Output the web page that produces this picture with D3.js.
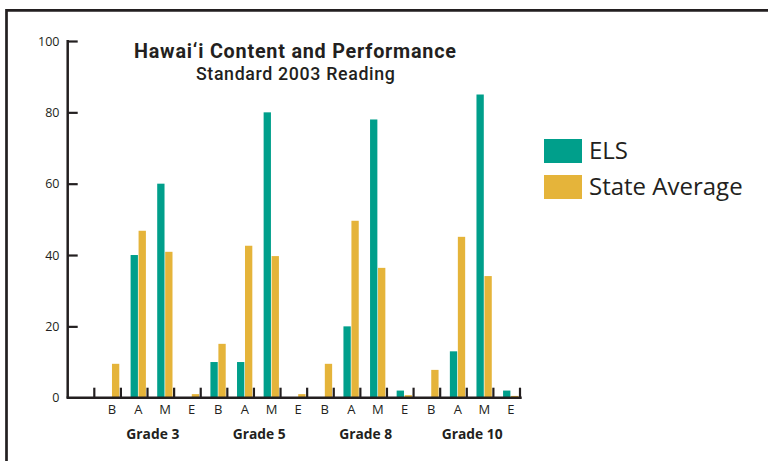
<!DOCTYPE html>
<html>
<head>
<meta charset="utf-8">
<script src="https://cdn.jsdelivr.net/npm/d3@7"></script>
<style>
  html, body { margin: 0; padding: 0; background: #fff; }
  svg { display: block; }
  text { font-family: "Open Sans", "Noto Sans", sans-serif; fill: #231f20; }
  text.title { font-family: Roboto, "Open Sans", sans-serif; }
</style>
</head>
<body>
<svg id="chart" width="768" height="461"></svg>
<script>
// ---- data ----
const grades = ["Grade 3", "Grade 5", "Grade 8", "Grade 10"];
const levels = ["B", "A", "M", "E"];
const elsValues   = [0, 40, 60, 0,   10, 10, 80, 0,   0, 20, 78, 2,   0, 13, 85, 2];
const stateValues = [9.5, 46.8, 40.9, 1,   15.1, 42.6, 39.7, 1,   9.5, 49.6, 36.4, 0.7,   7.8, 45.1, 34.1, 0.5];
const yTicks = [0, 20, 40, 60, 80, 100];
const seriesNames = ["ELS", "State Average"];
const colors = ["#009f8b", "#e5b43a"];
const titleLines = ["Hawai\u2018i Content and Performance", "Standard 2003 Reading"];

// ---- build ----
const svg = d3.select("#chart");
const ink = "#231f20";

// frame
svg.append("path")
  .attr("d", "M6.5,470 L6.5,10.3 L780,10.3")
  .attr("fill", "none").attr("stroke", ink).attr("stroke-width", 2.7);

const x0 = 67.7, xEnd = 521.7, plotRight = 520;
const y = d3.scaleLinear().domain([0, 100]).range([397.7, 41]);

const cats = [];
grades.forEach((g, gi) => levels.forEach((l, li) => cats.push({ key: g + "|" + l, grade: g, level: l, i: gi * 4 + li })));

const x = d3.scaleBand()
  .domain(cats.map(d => d.key))
  .range([x0 + (plotRight - x0) / 17, plotRight])
  .paddingInner(0).paddingOuter(0);
const bw = x.bandwidth();

// bars
const barW = bw * 0.275;
const offs = [bw * 0.364, bw * 0.664];
const series = [elsValues, stateValues];
series.forEach((vals, si) => {
  svg.append("g").selectAll("rect")
    .data(cats)
    .join("rect")
    .attr("x", d => x(d.key) + offs[si])
    .attr("width", barW)
    .attr("y", d => y(vals[d.i]))
    .attr("height", d => y(0) - y(vals[d.i]))
    .attr("fill", colors[si]);
});

// y axis
const yAxis = d3.axisRight(y).tickValues(yTicks.filter(t => t > 0)).tickSize(10).tickFormat("");
const ya = svg.append("g").attr("transform", `translate(${x0},0)`).call(yAxis);
ya.select(".domain").remove();
ya.selectAll(".tick line").attr("stroke", ink).attr("stroke-width", 2.2);
svg.append("line").attr("x1", x0).attr("x2", x0).attr("y1", y(100) - 1.1).attr("y2", y(0))
  .attr("stroke", ink).attr("stroke-width", 2.5);

svg.append("g").selectAll("text").data(yTicks).join("text")
  .attr("x", 59.5).attr("y", d => y(d)).attr("dy", "0.36em")
  .attr("text-anchor", "end").attr("font-size", 12.5)
  .text(d => d);

// x axis
const boundaries = cats.map(d => x(d.key)).concat([plotRight]);
svg.append("g").selectAll("line").data(boundaries).join("line")
  .attr("x1", d => d).attr("x2", d => d)
  .attr("y1", y(0)).attr("y2", y(0) - 10)
  .attr("stroke", ink).attr("stroke-width", 2.2);
svg.append("line").attr("x1", x0 - 1.2).attr("x2", xEnd).attr("y1", y(0)).attr("y2", y(0))
  .attr("stroke", ink).attr("stroke-width", 2.6);

// level labels
svg.append("g").selectAll("text").data(cats).join("text")
  .attr("x", d => x(d.key) + bw * 0.66)
  .attr("y", 413.5)
  .attr("text-anchor", "middle").attr("font-size", 13).attr("fill", "#2a2a2a")
  .text(d => d.level);

// grade labels
svg.append("g").selectAll("text").data(grades).join("text")
  .attr("x", (g, gi) => x(g + "|B") + 2 * bw + bw * 0.2)
  .attr("y", 439)
  .attr("text-anchor", "middle").attr("font-size", 13.8).attr("font-weight", "bold")
  .text(d => d);

// title
svg.append("text").attr("class", "title").attr("x", 295).attr("y", 58.3).attr("text-anchor", "middle")
  .attr("font-size", 19.8).attr("font-weight", "bold")
  .attr("textLength", 322).attr("lengthAdjust", "spacing").text(titleLines[0]);
svg.append("text").attr("class", "title").attr("x", 295.4).attr("y", 80).attr("text-anchor", "middle")
  .attr("font-size", 17.8).attr("font-weight", 500)
  .attr("textLength", 199).attr("lengthAdjust", "spacing").text(titleLines[1]);

// legend
const lg = svg.append("g");
seriesNames.forEach((n, i) => {
  lg.append("rect").attr("x", 544).attr("y", 139 + i * 36).attr("width", 38).attr("height", 24).attr("fill", colors[i]);
  lg.append("text").attr("x", 589).attr("y", 159 + i * 36).attr("font-size", 24).text(n);
});
</script>
</body>
</html>
